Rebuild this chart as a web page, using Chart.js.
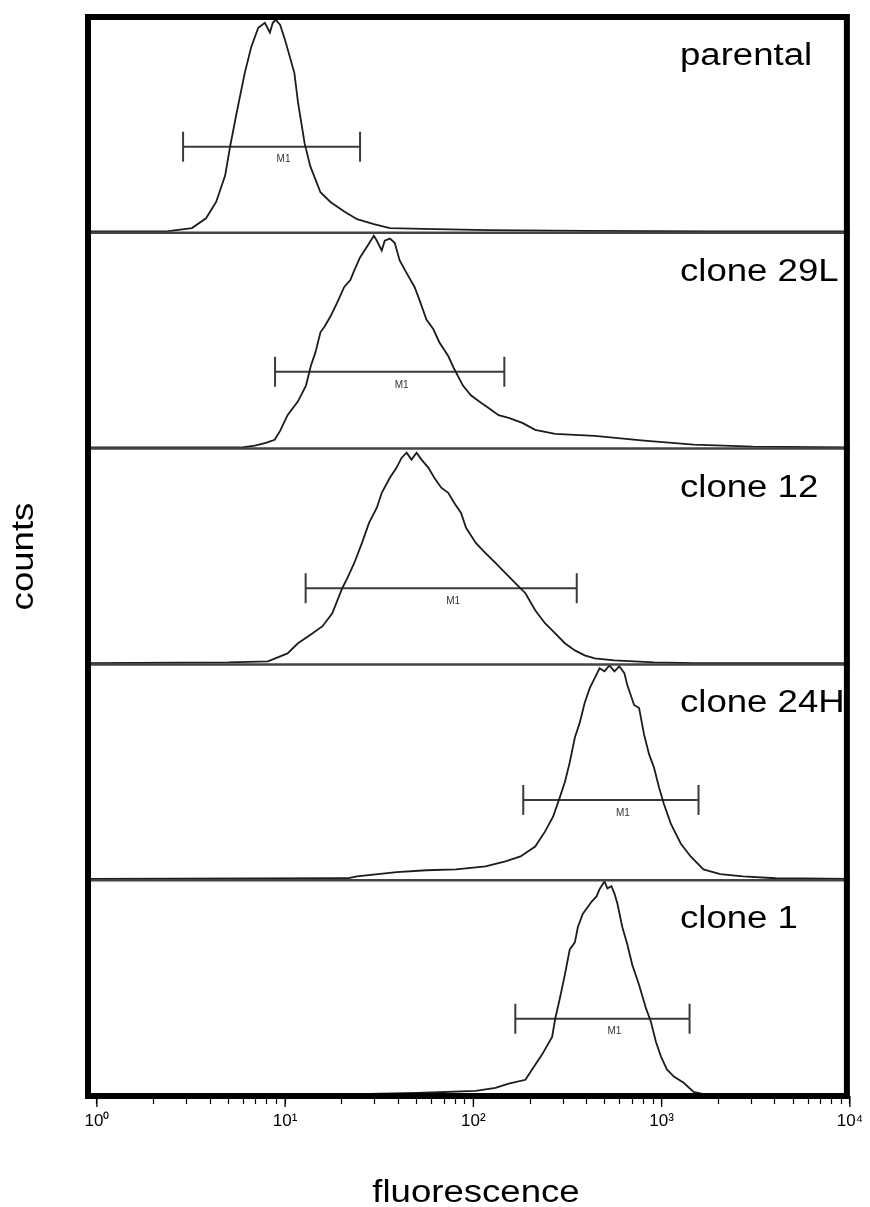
<!DOCTYPE html>
<html>
<head>
<meta charset="utf-8">
<title>counts vs fluorescence</title>
<script src="https://cdn.jsdelivr.net/npm/chart.js@4.4.1/dist/chart.umd.min.js"></script>
<style>
    html, body { margin: 0; padding: 0; background: #fff; }
    #wrap { position: relative; width: 870px; height: 1207px; }
</style>
</head>
<body>
<div id="wrap"><canvas id="facs-chart"></canvas></div>
<script>
const panelNames = ["parental", "clone 29L", "clone 12", "clone 24H", "clone 1"];

// fluorescence (log axis) and counts in % of panel height
const parentalX = [0.9, 2.4, 3.2, 3.8, 4.3, 4.8, 5.1, 5.5, 6.1, 6.6, 7.2, 7.8, 8.3, 8.6, 8.9, 9.4, 10.0, 11.2, 11.7, 12.7, 13.6, 15.4, 17.4, 20.6, 24.1, 29.6, 36, 54, 120, 400, 2000, 10000];
const parentalY = [0.6, 0.8, 2.2, 6.7, 14.3, 26.5, 39.9, 54.7, 74, 86, 95, 97.3, 92.8, 97.3, 98.7, 96.4, 89.2, 74, 60.5, 41.3, 30.9, 18.8, 14.3, 9.9, 6.3, 4.0, 2.2, 1.8, 1.2, 0.9, 0.7, 0.6];

const clone29LX = [0.9, 5.8, 6.9, 7.9, 8.8, 9.4, 10.3, 11.7, 12.9, 13.7, 14.5, 15.4, 16.2, 17.4, 18.9, 20.6, 22.2, 23.3, 25.0, 27.9, 29.6, 30.7, 32.6, 33.8, 36.0, 38.2, 40.6, 44.2, 48.7, 51.7, 56.3, 61.3, 65.9, 73.5, 79, 88, 97, 107, 121, 136, 154, 182, 213, 272, 441, 807, 1480, 3050, 10000];
const clone29LY = [0.6, 0.5, 1.4, 2.7, 4.1, 8.2, 15.5, 21.9, 29.2, 38.4, 44.7, 53.9, 56.6, 61.2, 67.6, 74.9, 78.1, 82.6, 88.6, 95.0, 98.6, 96.3, 91.8, 96.3, 97.3, 95.4, 87.2, 81.3, 74.9, 68.9, 59.8, 55.3, 49.3, 42.9, 37, 29.2, 24.7, 21.9, 18.7, 15.5, 14.2, 11.9, 8.7, 6.8, 5.9, 3.7, 1.8, 0.9, 0.6];

const clone12X = [0.9, 5.0, 8.1, 10.3, 11.7, 14.0, 15.8, 17.8, 20.1, 21.4, 23.3, 25.6, 27.9, 30.7, 32.6, 36.0, 39.1, 41.6, 44.2, 46.9, 49.9, 53.0, 57.6, 62.0, 67.5, 73.5, 79.0, 86.0, 91.4, 103, 116, 131, 148, 167, 189, 213, 240, 272, 306, 346, 390, 441, 561, 910, 1500, 10000];
const clone12Y = [0.6, 0.9, 1.4, 5.1, 9.8, 14.4, 17.7, 23.7, 35.3, 40, 47, 56.3, 65.6, 72.6, 79.5, 86.5, 91.2, 95.8, 98.1, 94.9, 98.1, 94.9, 91.2, 86.5, 81.9, 79.5, 74.9, 70.2, 63.3, 56.3, 51.6, 47, 42.3, 37.7, 33, 25.1, 19.1, 14.4, 9.8, 6.5, 4.2, 2.8, 1.9, 0.9, 0.6, 0.6];

const clone24HX = [0.9, 21.4, 24.1, 39.1, 56.3, 80.9, 116, 148, 178, 213, 240, 265, 288, 306, 325, 346, 367, 390, 415, 441, 468, 497, 528, 561, 596, 634, 657, 714, 759, 807, 858, 910, 968, 1028, 1120, 1263, 1426, 1667, 2048, 2704, 4035, 10000];
const clone24HY = [0.6, 0.9, 1.8, 3.7, 4.6, 5.0, 6.4, 8.7, 11, 15.6, 22.5, 29.4, 38.5, 45.4, 54.6, 66.1, 72.9, 82.1, 89, 93.6, 98.2, 96.8, 99.5, 96.8, 99.1, 95.9, 90.4, 81.2, 79.8, 67.4, 58.3, 52.3, 43.1, 35.3, 26.1, 17.0, 11.0, 5.0, 2.8, 1.8, 0.9, 0.6];

const clone1X = [0.9, 24.1, 49.9, 103, 131, 154, 189, 205, 232, 262, 272, 288, 306, 325, 346, 359, 381, 425, 451, 468, 497, 515, 541, 561, 582, 618, 657, 698, 759, 826, 877, 933, 991, 1066, 1161, 1309, 1479, 1730, 10000];
const clone1Y = [0.6, 0.9, 1.4, 2.4, 3.8, 5.7, 7.5, 12.3, 19.3, 27.4, 35.8, 45.3, 56.1, 67.9, 71.2, 78.3, 84.4, 90.1, 92.5, 95.8, 99.5, 96.2, 97.2, 93.9, 89.2, 78.3, 70.3, 60.8, 51.4, 40.6, 34.4, 25, 18.4, 12.3, 9.0, 6.1, 1.9, 0.5, 0.5];

// M1 gates: [from, to, height in % of panel]
const parentalM1 = [2.87, 25.0, 39.9];
const clone29LM1 = [8.84, 146, 35.6];
const clone12M1 = [12.85, 354, 35.3];
const clone24HM1 = [184, 1570, 37.2];
const clone1M1 = [167, 1407, 35.8];

const tickValues = [1, 2, 3, 4, 5, 6, 7, 8, 9,
    10, 20, 30, 40, 50, 60, 70, 80, 90,
    100, 200, 300, 400, 500, 600, 700, 800, 900,
    1000, 2000, 3000, 4000, 5000, 6000, 7000, 8000, 9000, 10000];
const tickLabels = ["10\u2070", "10\u00B9", "10\u00B2", "10\u00B3", "10\u2074"];

document.addEventListener("DOMContentLoaded", function () {
    const curves = [
        [parentalX, parentalY],
        [clone29LX, clone29LY],
        [clone12X, clone12Y],
        [clone24HX, clone24HY],
        [clone1X, clone1Y]
    ];
    const gates = [parentalM1, clone29LM1, clone12M1, clone24HM1, clone1M1];
    const nPanels = panelNames.length;
    const base = i => nPanels - 1 - i;

    const FONT = '"Liberation Sans", Arial, Helvetica, sans-serif';
    const STRETCH = 1.18;

    let datasets = [];
    curves.forEach(([xs, ys], i) => {
        datasets.push({
            label: panelNames[i],
            data: xs.map((v, k) => ({ x: v, y: base(i) + ys[k] / 100 })),
            borderColor: "#1c1c1c",
            borderWidth: 1.8,
            pointRadius: 0,
            tension: 0
        });
    });
    gates.forEach((g, i) => {
        datasets.push({
            label: panelNames[i] + " M1",
            data: [{ x: g[0], y: base(i) + g[2] / 100 }, { x: g[1], y: base(i) + g[2] / 100 }],
            borderColor: "#3a3a3a",
            borderWidth: 2,
            pointStyle: "line",
            pointRotation: 90,
            pointRadius: 15,
            pointHoverRadius: 15,
            pointBorderColor: "#3a3a3a",
            pointBorderWidth: 2
        });
    });

    function wideText(c, text, x, y, rotate) {
        c.save();
        c.translate(x, y);
        if (rotate) c.rotate(-Math.PI / 2);
        c.scale(STRETCH, 1);
        c.fillText(text, 0, 0);
        c.restore();
    }

    const panelPlugin = {
        id: "panels",
        afterDraw(chart) {
            const { ctx: c, chartArea: area, scales: { x, y } } = chart;
            c.save();

            // separators between histograms
            c.strokeStyle = "#444";
            c.lineWidth = 2.5;
            for (let i = 1; i < nPanels; i++) {
                const py = y.getPixelForValue(i);
                c.beginPath();
                c.moveTo(area.left, py);
                c.lineTo(area.right, py);
                c.stroke();
            }

            // frame
            c.strokeStyle = "#000";
            c.lineWidth = 6;
            c.strokeRect(area.left, area.top, area.right - 3 - area.left, area.bottom - area.top);

            // longer major ticks
            c.lineWidth = 1.3;
            x.ticks.forEach(t => {
                if (!t.major) return;
                const px = x.getPixelForValue(t.value);
                c.beginPath();
                c.moveTo(px, area.bottom);
                c.lineTo(px, area.bottom + 11);
                c.stroke();
            });

            // M1 labels
            c.fillStyle = "#333";
            c.font = "10px " + FONT;
            c.textAlign = "center";
            c.textBaseline = "middle";
            gates.forEach((g, i) => {
                const px = (x.getPixelForValue(g[0]) + x.getPixelForValue(g[1])) / 2 + 12;
                const py = y.getPixelForValue(base(i) + g[2] / 100) + 13;
                c.fillText("M1", px, py);
            });

            // panel names
            c.fillStyle = "#000";
            c.font = "31px " + FONT;
            c.textAlign = "left";
            c.textBaseline = "alphabetic";
            panelNames.forEach((name, i) => {
                const top = y.getPixelForValue(base(i) + 1);
                wideText(c, name, 680, top + 48, false);
            });

            // axis titles
            c.textAlign = "center";
            wideText(c, "fluorescence", (area.left + area.right) / 2 + 7, 1202, false);
            wideText(c, "counts", 33, (area.top + area.bottom) / 2, true);

            c.restore();
        }
    };

    let ctx = document.getElementById("facs-chart").getContext("2d");

    window.facsChart = new Chart(ctx, {
        type: "line",
        data: { datasets: datasets },
        options: {
            responsive: true,
            maintainAspectRatio: false,
            animation: false,
            layout: { padding: { left: 88, right: 12, top: 9, bottom: 0 } },
            plugins: {
                legend: { display: false },
                tooltip: { enabled: false }
            },
            scales: {
                x: {
                    type: "logarithmic",
                    min: 0.897,
                    max: 10000,
                    afterBuildTicks: scale => {
                        scale.ticks = tickValues.map(v => ({
                            value: v,
                            major: Math.abs(Math.log10(v) - Math.round(Math.log10(v))) < 1e-9
                        }));
                    },
                    afterFit: scale => { scale.height = 111; },
                    border: { display: false },
                    grid: {
                        display: true,
                        drawOnChartArea: false,
                        drawTicks: true,
                        tickLength: 8,
                        tickColor: "#000",
                        tickWidth: 1.2
                    },
                    ticks: {
                        autoSkip: false,
                        maxRotation: 0,
                        padding: 7,
                        color: "#000",
                        font: { size: 17, family: FONT },
                        callback: value => {
                            const e = Math.log10(value);
                            return Math.abs(e - Math.round(e)) < 1e-9 ? tickLabels[Math.round(e)] : "";
                        }
                    }
                },
                y: {
                    display: false,
                    min: 0,
                    max: nPanels
                }
            }
        },
        plugins: [panelPlugin]
    });
});
</script>
</body>
</html>
